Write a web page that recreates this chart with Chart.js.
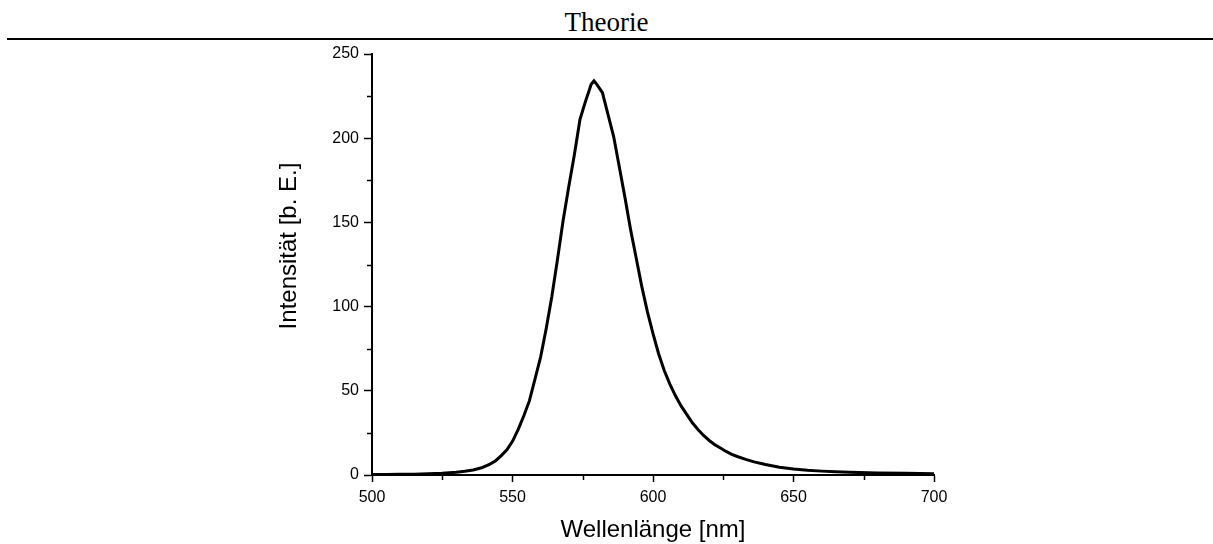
<!DOCTYPE html>
<html>
<head>
<meta charset="utf-8">
<script src="https://cdn.jsdelivr.net/npm/chart.js@4/dist/chart.umd.min.js"></script>
<style>
  body { margin: 0; background: #fff; }
  #page { position: relative; width: 1213px; height: 544px; overflow: hidden; }
  #header {
    position: absolute; left: 7px; right: 0; top: 0; height: 38px;
    border-bottom: 2px solid #000;
  }
  #header span {
    position: absolute; left: -7px; width: 1213px; top: 9px;
    text-align: center; font-family: "Liberation Serif", "Times New Roman", serif;
    font-size: 27px; line-height: 27px; color: #000;
  }
  canvas { position: absolute; left: 0; top: 0; }
</style>
</head>
<body>
<div id="page">
  <div id="header"><span>Theorie</span></div>
  <canvas id="chart" width="1213" height="544"></canvas>
</div>
<script>
// Spektrum
const wellenlaenge = [500, 505, 510, 515, 520, 525, 530, 533, 536, 539, 542, 544, 546, 548, 550,
  552, 554, 556, 558, 560, 562, 564, 566, 568, 570, 572, 574, 576, 578, 579, 580, 582, 584, 586,
  588, 590, 592, 594, 596, 598, 600, 602, 604, 606, 608, 610, 612, 614, 616, 618, 620, 622, 624,
  626, 628, 630, 633, 636, 640, 645, 650, 655, 660, 665, 670, 680, 690, 700];
const intensitaet = [0.3, 0.3, 0.4, 0.5, 0.7, 1.0, 1.6, 2.2, 3.0, 4.3, 6.5, 8.5, 11.5, 15, 20,
  27, 35, 44, 57, 70, 87, 106, 128, 151, 171, 190, 211, 222, 232, 234, 232, 227, 214, 201,
  183, 165, 146, 129, 112, 97, 84, 72, 62, 54, 47, 41, 36, 31, 27, 23.5, 20.5, 18, 16,
  14, 12.3, 11, 9.3, 7.8, 6.2, 4.6, 3.5, 2.8, 2.3, 1.9, 1.6, 1.2, 1.0, 0.8];

const xTicks = [500, 550, 600, 650, 700];
const yTicks = [0, 50, 100, 150, 200, 250];
const xTitel = 'Wellenlänge [nm]';
const yTitel = 'Intensität [b. E.]';

const font = '"Liberation Sans", Arial, sans-serif';

// Zwischenstriche und Achsentitel
const extras = {
  id: 'extras',
  afterDraw(chart) {
    const ctx = chart.ctx;
    const area = chart.chartArea;
    const xs = chart.scales.x, ys = chart.scales.y;
    ctx.save();
    ctx.strokeStyle = '#000';
    ctx.lineWidth = 1.5;
    ctx.beginPath();
    for (let i = 0; i < xTicks.length - 1; i++) {
      const px = Math.round(xs.getPixelForValue((xTicks[i] + xTicks[i + 1]) / 2)) + 0.5;
      ctx.moveTo(px, area.bottom);
      ctx.lineTo(px, area.bottom + 5);
    }
    for (let i = 0; i < yTicks.length - 1; i++) {
      const py = Math.round(ys.getPixelForValue((yTicks[i] + yTicks[i + 1]) / 2)) + 0.5;
      ctx.moveTo(area.left, py);
      ctx.lineTo(area.left - 5, py);
    }
    ctx.stroke();

    ctx.fillStyle = '#000';
    ctx.font = '24px ' + font;
    ctx.textAlign = 'center';
    ctx.textBaseline = 'alphabetic';
    ctx.fillText(xTitel, (area.left + area.right) / 2, area.bottom + 62);

    ctx.translate(area.left - 76, area.top + 192);
    ctx.rotate(-Math.PI / 2);
    ctx.fillText(yTitel, 0, 0);
    ctx.restore();
  }
};

new Chart(document.getElementById('chart'), {
  type: 'line',
  data: {
    datasets: [{
      data: wellenlaenge.map((w, i) => ({ x: w, y: intensitaet[i] })),
      borderColor: '#000',
      borderWidth: 3,
      pointRadius: 0,
      tension: 0,
      fill: false
    }]
  },
  options: {
    responsive: false,
    animation: false,
    layout: { padding: { left: 0, right: 279, top: 54, bottom: 0 } },
    plugins: { legend: { display: false }, tooltip: { enabled: false } },
    scales: {
      x: {
        type: 'linear',
        min: 500, max: 700,
        afterBuildTicks: s => { s.ticks = xTicks.map(v => ({ value: v })); },
        afterFit: s => { s.height = 69; },
        border: { display: true, color: '#000', width: 2 },
        grid: { drawOnChartArea: false, tickLength: 7, tickWidth: 1.5, tickColor: '#000' },
        ticks: { color: '#000', font: { family: font, size: 16 }, padding: 6, maxRotation: 0 }
      },
      y: {
        type: 'linear',
        min: 0, max: 250,
        afterBuildTicks: s => { s.ticks = yTicks.map(v => ({ value: v })); },
        afterFit: s => { s.width = 372; },
        border: { display: true, color: '#000', width: 2 },
        grid: { drawOnChartArea: false, tickLength: 8, tickWidth: 1.5, tickColor: '#000' },
        ticks: { color: '#000', font: { family: font, size: 16 }, padding: 5 }
      }
    }
  },
  plugins: [extras]
});
</script>
</body>
</html>
